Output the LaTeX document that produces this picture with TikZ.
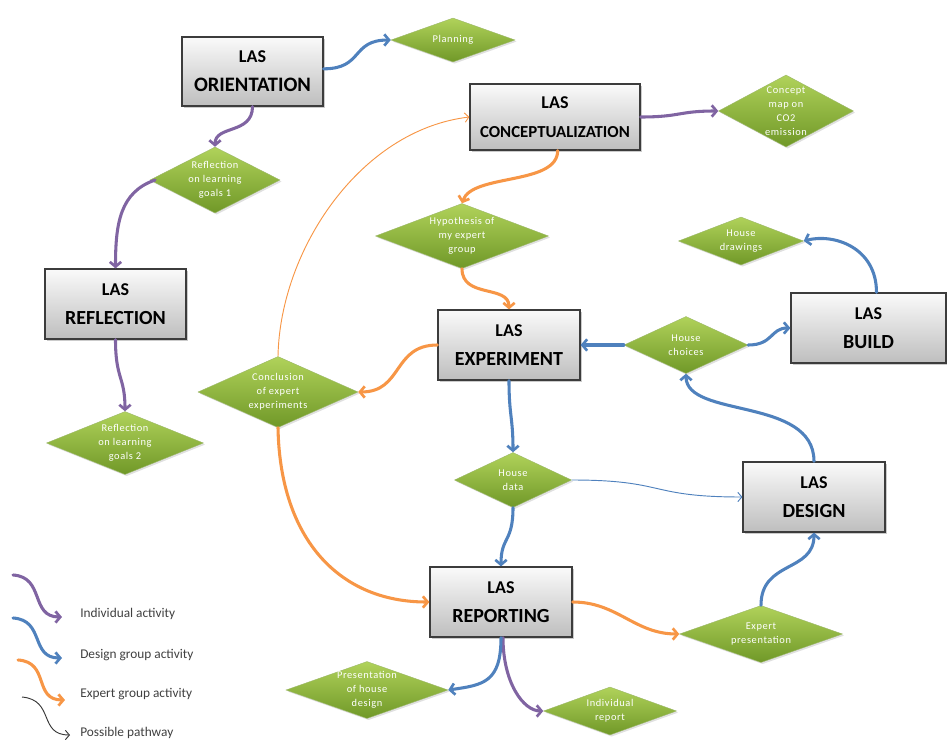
\documentclass[tikz,border=0pt]{standalone}
\usepackage{fontspec}
\setmainfont{Carlito}
\newfontfamily\diafont[LetterSpace=6]{Carlito}
\usetikzlibrary{shapes.geometric,arrows.meta,shadows}

\definecolor{indivcol}{RGB}{128,100,162}
\definecolor{designcol}{RGB}{79,129,189}
\definecolor{expertcol}{RGB}{247,150,70}
\definecolor{pathcol}{RGB}{55,55,55}
\definecolor{boxtop}{RGB}{250,250,250}
\definecolor{boxbot}{RGB}{190,190,190}
\definecolor{boxedge}{RGB}{60,60,60}
\definecolor{diatop}{RGB}{176,210,90}
\definecolor{diabot}{RGB}{112,152,40}
\definecolor{legendtext}{RGB}{64,64,64}

\tikzset{
  lasbox/.style={rectangle, draw=boxedge, line width=0.9pt,
    top color=boxtop, bottom color=boxbot, align=center,
    drop shadow={shadow xshift=1.8pt, shadow yshift=-1.8pt, fill=black!45, opacity=0.45},
    inner sep=0pt},
  dia/.style={diamond, inner sep=0pt, draw=diabot!70!white, line width=0.3pt,
    top color=diatop, bottom color=diabot,
    drop shadow={shadow xshift=1.2pt, shadow yshift=-1.2pt, fill=black!35, opacity=0.35}},
  diatext/.style={text=white, align=center, font=\diafont\fontsize{7.8}{10.4}\selectfont, inner sep=0pt},
  conn/.style={line width=2.3pt, line cap=round, line join=round,
    -{Straight Barb[length=3.6pt,width=8.5pt,line width=2pt]}},
  indiv/.style={conn, draw=indivcol},
  designg/.style={conn, draw=designcol},
  expertg/.style={conn, draw=expertcol},
  pathway/.style={line width=0.7pt, -{Straight Barb[length=3pt,width=7pt,line width=0.7pt]}},
  legendlabel/.style={anchor=west, text=legendtext, font=\fontsize{10}{12}\selectfont, inner sep=0pt}
}

% two-line caption of an activity box
\newcommand{\lasline}[2]{{\fontsize{13.5}{16}\selectfont\bfseries LAS}\\[10pt]{\fontsize{#1}{#1}\selectfont\bfseries #2}}

\begin{document}
\begin{tikzpicture}[x=0.75pt,y=-0.75pt]
\useasboundingbox (0,0) rectangle (947,742);

% ---- activity boxes ----
\node[lasbox, minimum width=105.75pt, minimum height=51.75pt] (orient) at (252.5,71.5) {\lasline{15.4}{ORIENTATION}};
\node[lasbox, minimum width=127.5pt, minimum height=49.5pt] (concept) at (555,117) {\lasline{12.6}{CONCEPTUALIZATION}};
\node[lasbox, minimum width=105.75pt, minimum height=52.5pt] (refl) at (115.5,304) {\lasline{15}{REFLECTION}};
\node[lasbox, minimum width=106.5pt, minimum height=52.5pt] (exper) at (509,345) {\lasline{15}{EXPERIMENT}};
\node[lasbox, minimum width=116.25pt, minimum height=52.5pt] (build) at (868.5,328) {\lasline{15}{BUILD}};
\node[lasbox, minimum width=106.5pt, minimum height=52.5pt] (design) at (814,497) {\lasline{15}{DESIGN}};
\node[lasbox, minimum width=106.5pt, minimum height=52.5pt] (rep) at (501,602) {\lasline{15}{REPORTING}};

% ---- products ----
\node[dia, minimum width=93pt, minimum height=33pt] (plan) at (453,40) {};
\node[diatext] at (plan) {Planning};
\node[dia, minimum width=101.25pt, minimum height=54pt] (cmap) at (786,111) {};
\node[diatext] at (cmap) {Concept\\map on\\CO2\\emission};
\node[dia, minimum width=97.5pt, minimum height=49.5pt] (rlg1) at (215,180) {};
\node[diatext] at (rlg1) {Reflection\\on learning\\goals 1};
\node[dia, minimum width=129.75pt, minimum height=48.75pt] (hyp) at (462,236) {};
\node[diatext] at (hyp) {Hypothesis of\\my expert\\group};
\node[dia, minimum width=93.75pt, minimum height=36pt] (hdraw) at (741,241) {};
\node[diatext] at (hdraw) {House\\drawings};
\node[dia, minimum width=93pt, minimum height=42.75pt] (hchoice) at (686,345) {};
\node[diatext] at (hchoice) {House\\choices};
\node[dia, minimum width=120pt, minimum height=53.25pt] (concl) at (278,392) {};
\node[diatext] at (concl) {Conclusion\\of expert\\experiments};
\node[dia, minimum width=117.75pt, minimum height=47.25pt] (rlg2) at (125,443) {};
\node[diatext] at (rlg2) {Reflection\\on learning\\goals 2};
\node[dia, minimum width=87.75pt, minimum height=41.25pt] (hdata) at (513,480) {};
\node[diatext] at (hdata) {House\\data};
\node[dia, minimum width=122.25pt, minimum height=42.75pt] (expert) at (761,634) {};
\node[diatext] at (expert) {Expert\\presentation};
\node[dia, minimum width=121.5pt, minimum height=42.75pt] (phd) at (367,690) {};
\node[diatext] at (phd) {Presentation\\of house\\design};
\node[dia, minimum width=99.75pt, minimum height=36pt] (ir) at (610,711) {};
\node[diatext] at (ir) {Individual\\report};

% ---- individual activity ----
\draw[indiv] (orient.south) .. controls +(0,28) and +(0,-22) .. (rlg1.north);
\draw[indiv] ([xshift=4pt]rlg1.west) .. controls +(-35,12) and +(0,-45) .. (refl.north);
\draw[indiv] (refl.south) .. controls +(0,40) and +(0,-35) .. (rlg2.north);
\draw[indiv] (concept.east) .. controls +(40,0) and +(-40,0) .. (cmap.west);
\draw[indiv] ([xshift=1.5pt]rep.south) .. controls +(0,45) and +(-20,0) .. (ir.west);

% ---- design group activity ----
\draw[designg] ([yshift=2pt]orient.east) .. controls +(40,0) and +(-40,0) .. (plan.west);
\draw[designg] (exper.south) .. controls +(0,35) and +(0,-35) .. (hdata.north);
\draw[designg] (hdata.south) .. controls +(0,35) and +(0,-30) .. (rep.north);
\draw[designg] (hchoice.west) -- (exper.east);
\draw[designg] (hchoice.east) .. controls +(25,0) and +(-20,0) .. (build.west);
\draw[designg] ([xshift=6pt]build.north) .. controls +(0,-45) and +(30,-8) .. (hdraw.east);
\draw[designg] (design.north) .. controls +(0,-65) and +(0,45) .. (hchoice.south);
\draw[designg] (expert.north) .. controls +(0,-45) and +(0,40) .. (design.south);
\draw[designg] (rep.south) .. controls +(0,45) and +(35,-5) .. (phd.east);

% ---- expert group activity ----
\draw[expertg] ([xshift=2pt]concept.south) .. controls +(0,35) and +(10,-30) .. (hyp.north);
\draw[expertg] (hyp.south) .. controls +(0,30) and +(0,-25) .. (exper.north);
\draw[expertg] (exper.west) .. controls +(-45,0) and +(45,0) .. (concl.east);
\draw[expertg] (concl.south) .. controls (280,540) and (340,602) .. (rep.west);
\draw[expertg] (rep.east) .. controls +(45,0) and +(-45,0) .. (expert.west);

% ---- possible pathways ----
\draw[pathway, draw=expertcol] (concl.north) .. controls (280,250) and (360,130) .. (concept.west);
\draw[pathway, draw=designcol] (hdata.east) .. controls +(95,0) and +(-95,0) .. (design.west);

% ---- legend ----
\coordinate (li0) at (13,575);  \coordinate (li1) at (62,617);
\coordinate (ld0) at (13,618);  \coordinate (ld1) at (62,658);
\coordinate (le0) at (18,660);  \coordinate (le1) at (65,700);
\coordinate (lp0) at (22,697);  \coordinate (lp1) at (70,735);
\draw[indiv] (li0) .. controls (45,577) and (30,617) .. (li1);
\draw[designg] (ld0) .. controls (45,620) and (30,658) .. (ld1);
\draw[expertg] (le0) .. controls (50,662) and (33,700) .. (le1);
\draw[pathway, draw=pathcol] (lp0) .. controls (55,700) and (38,735) .. (lp1);
\node[legendlabel] (lt1) at (80,614) {Individual activity};
\node[legendlabel] (lt2) at (80,655) {Design group activity};
\node[legendlabel] (lt3) at (80,694) {Expert group activity};
\node[legendlabel] (lt4) at (80,733) {Possible pathway};
\end{tikzpicture}
\end{document}
